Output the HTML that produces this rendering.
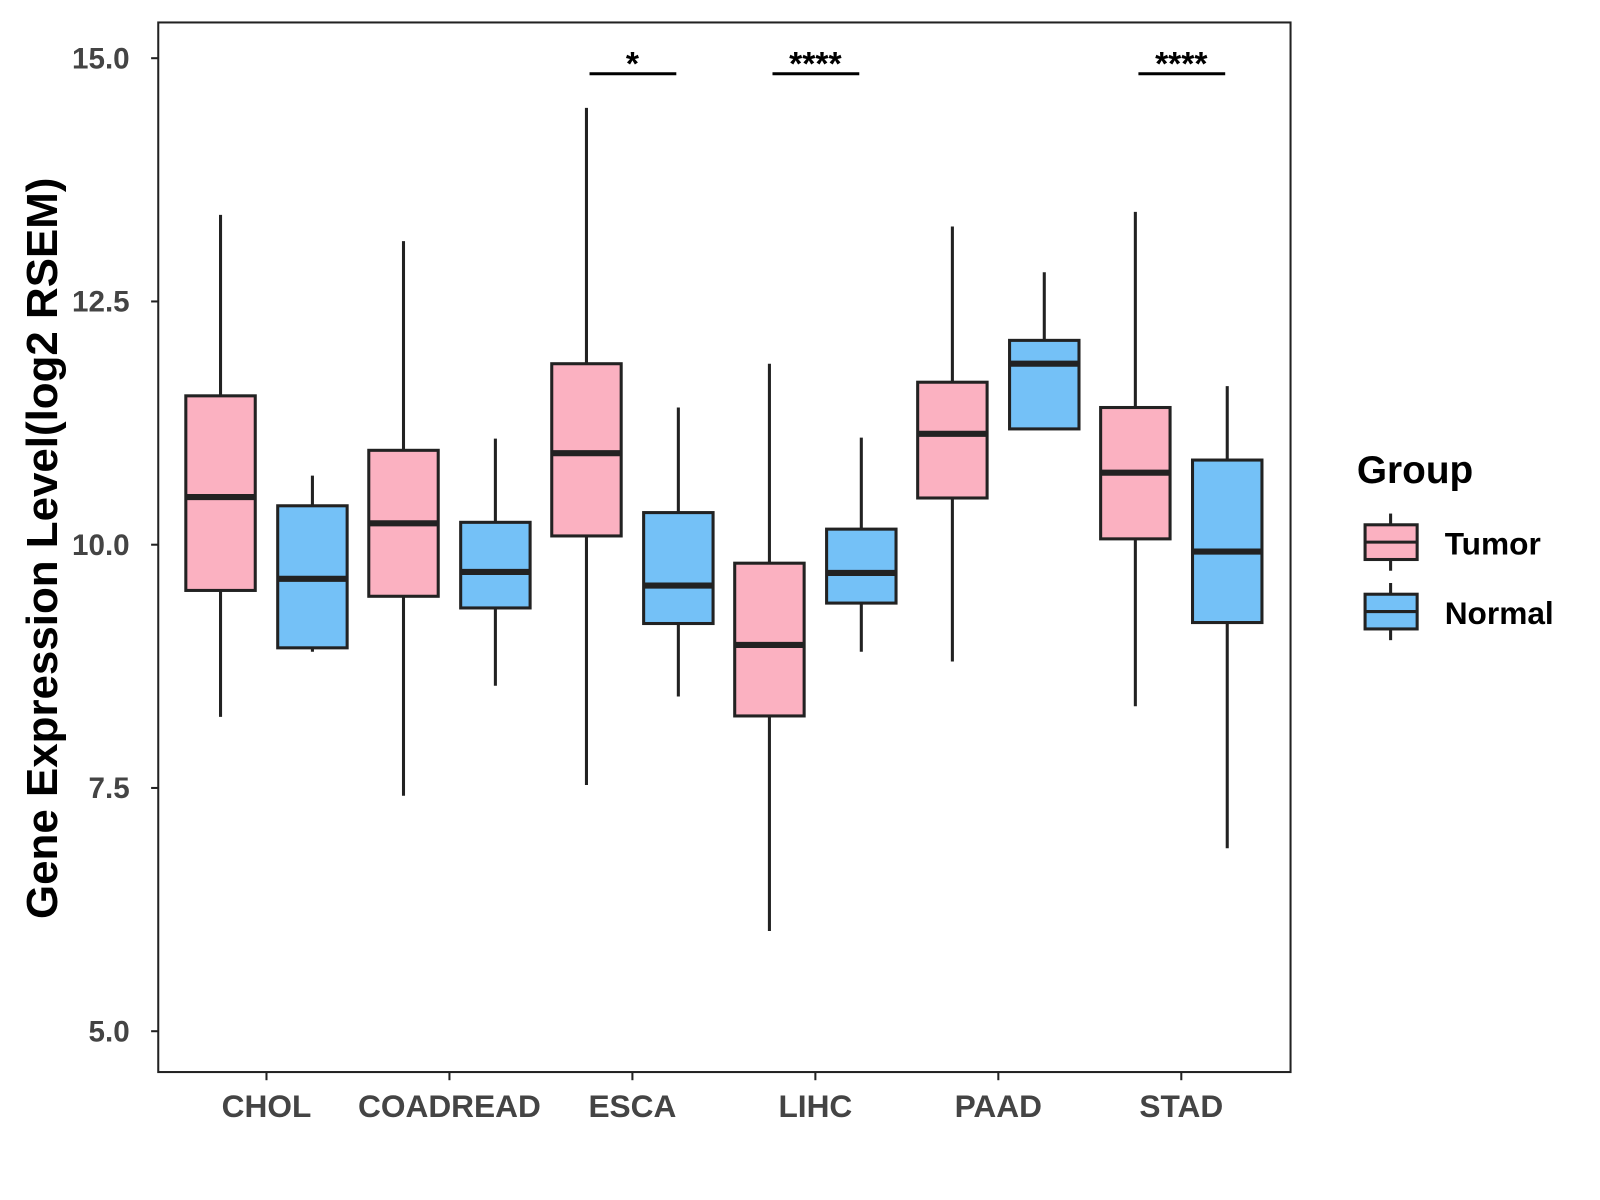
<!DOCTYPE html>
<html><head><meta charset="utf-8"><style>
body{margin:0;background:#fff}
svg{display:block;font-family:"Liberation Sans",sans-serif;font-weight:bold}
</style></head><body>
<svg width="1600" height="1200" viewBox="0 0 1600 1200">
<g transform="scale(1.021)" id="chart">
<rect x="155" y="22" width="1109" height="1028" fill="#fff" stroke="#222" stroke-width="2"/>
<g id="marks"></g>
<text transform="translate(56,537) rotate(-90)" text-anchor="middle" font-size="43" fill="#000">Gene Expression Level(log2 RSEM)</text>
<g>
<text x="1302" y="473" font-size="38" fill="#000" transform="translate(27,0)">Group</text>
<g transform="translate(27,0)">
<line x1="1335" y1="503" x2="1335" y2="559" stroke="#222" stroke-width="3"/>
<rect x="1310" y="514" width="51" height="34" fill="#FBB1C1" stroke="#222" stroke-width="3"/>
<line x1="1310" y1="531" x2="1361" y2="531" stroke="#222" stroke-width="3"/>
<text x="1388" y="543" font-size="31" fill="#000">Tumor</text></g>
<g transform="translate(27,0)">
<line x1="1335" y1="571" x2="1335" y2="627" stroke="#222" stroke-width="3"/>
<rect x="1310" y="582" width="51" height="34" fill="#74C1F7" stroke="#222" stroke-width="3"/>
<line x1="1310" y1="599" x2="1361" y2="599" stroke="#222" stroke-width="3"/>
<text x="1388" y="611" font-size="31" fill="#000">Normal</text></g>
</g>
</g>
</svg>
<script>
const categories=["CHOL","COADREAD","ESCA","LIHC","PAAD","STAD"];
const tumorStats=[[8.23,9.53,10.49,11.53,13.39],[7.42,9.47,10.22,10.97,13.12],[7.53,10.09,10.94,11.86,14.49],[6.03,8.24,8.97,9.81,11.86],[8.80,10.48,11.14,11.67,13.27],[8.34,10.06,10.74,11.41,13.42]];
const normalStats=[[8.90,8.94,9.65,10.40,10.71],[8.55,9.35,9.72,10.23,11.09],[8.44,9.19,9.58,10.33,11.41],[8.90,9.40,9.71,10.16,11.10],[11.19,11.19,11.86,12.10,12.80],[6.88,9.20,9.93,10.87,11.63]];
const yTicks=[5.0,7.5,10.0,12.5,15.0];
const signif=["","","*","****","","****"];
const sigY=14.84;
const NS="http://www.w3.org/2000/svg";
const g=document.getElementById('marks');
const y=v=>1010-(v-5)*95.3;
const x=i=>261+i*179.2;
function mk(t,a,p){const e=document.createElementNS(NS,t);for(const k in a)e.setAttribute(k,a[k]);(p||g).appendChild(e);return e;}
yTicks.forEach(t=>{
 const l=mk('line',{x1:148,x2:155,y1:y(t),y2:y(t),stroke:'#222','stroke-width':2});
 
 
 const tx=mk('text',{x:127,y:y(t)+10,'text-anchor':'end','font-size':29,fill:'#444'});tx.textContent=t.toFixed(1);
 
 
});
categories.forEach((c,i)=>{
 const l=mk('line',{x1:x(i),x2:x(i),y1:1050,y2:1058,stroke:'#222','stroke-width':2});
 
 
 const tx=mk('text',{x:x(i),y:1094,'text-anchor':'middle','font-size':31,fill:'#444'});tx.textContent=c;
 
 
 [[tumorStats[i],-45,'#FBB1C1','tumor'],[normalStats[i],45,'#74C1F7','normal']].forEach(([s,off,col,nm])=>{
  const cx=x(i)+off;
  const bg=mk('g',{});
  
  
  mk('line',{x1:cx,x2:cx,y1:y(s[0]),y2:y(s[4]),stroke:'#222','stroke-width':3},bg);
  mk('rect',{x:cx-34,y:y(s[3]),width:68,height:y(s[1])-y(s[3]),fill:col,stroke:'#222','stroke-width':3},bg);
  mk('line',{x1:cx-34,x2:cx+34,y1:y(s[2]),y2:y(s[2]),stroke:'#222','stroke-width':6},bg);
 });
 if(signif[i]){
  const sl=mk('line',{x1:x(i)-45+3,x2:x(i)+45-2,y1:y(sigY),y2:y(sigY),stroke:'#000','stroke-width':3});
  
  
  const st=mk('text',{x:x(i),y:y(sigY)+1,'text-anchor':'middle','font-size':33,fill:'#000'});st.textContent=signif[i];
  
  
 }
});
</script>
</body></html>
